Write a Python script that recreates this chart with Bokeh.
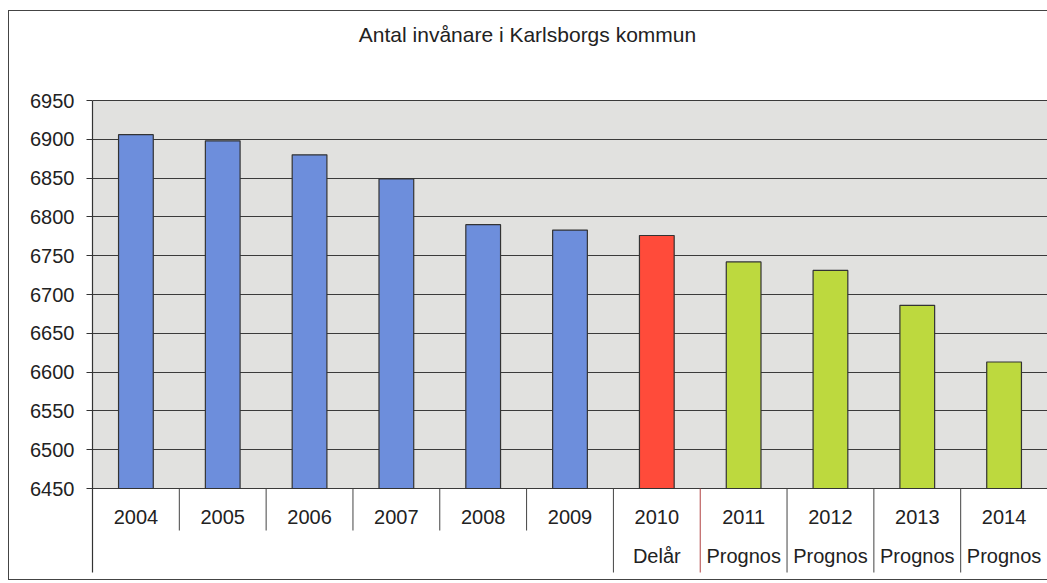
from bokeh.plotting import figure
from bokeh.models import Range1d, FixedTicker, ColumnDataSource
from bokeh.core.properties import value
from bokeh.embed import file_html
from bokeh.resources import INLINE

# ---- data ----
years = ["2004", "2005", "2006", "2007", "2008", "2009", "2010", "2011", "2012", "2013", "2014"]
population = [6906, 6898, 6880, 6849, 6790, 6783, 6776, 6742, 6731, 6686, 6613]
sublabels = ["", "", "", "", "", "", "Delår", "Prognos", "Prognos", "Prognos", "Prognos"]
kinds = ["Utfall"] * 6 + ["Delår"] + ["Prognos"] * 4
y_ticks = [6450, 6500, 6550, 6600, 6650, 6700, 6750, 6800, 6850, 6900, 6950]
title_text = "Antal invånare i Karlsborgs kommun"

color_map = {"Utfall": "#6d8edc", "Delår": "#ff4b3a", "Prognos": "#bdd93e"}
FONT = "Liberation Sans"
TXT = "#222222"

W, H = 1047, 583
LEFT = 92
n = len(years)
xs = [i + 0.5 for i in range(n)]
colors = [color_map[k] for k in kinds]

# pixel scale: 6950 at y=100, 6450 at y=488 (figure coords)
ppu = 388 / 500.0
y_top = y_ticks[-1] + 100 / ppu
y_bot = y_ticks[0] - (H - 488) / ppu
cat_px = (W - LEFT) / n

p = figure(width=W, height=H,
           x_range=Range1d(0, n), y_range=Range1d(y_bot, y_top),
           x_axis_location=None,
           output_backend="svg", toolbar_location=None,
           min_border_left=LEFT, min_border_right=0, min_border_top=0, min_border_bottom=0)
p.outline_line_color = None
p.background_fill_alpha = 0
p.border_fill_alpha = 0
p.xgrid.visible = False
p.ygrid.ticker = FixedTicker(ticks=y_ticks)
p.ygrid.grid_line_color = "#3a3a3a"
p.ygrid.grid_line_width = 1

ax = p.yaxis[0]
ax.ticker = FixedTicker(ticks=y_ticks)
ax.bounds = (y_ticks[0] - 84 / ppu, y_ticks[-1])
ax.axis_line_color = "#333333"
ax.axis_line_width = 1.2
ax.major_tick_line_color = "#333333"
ax.major_tick_out = 6
ax.major_tick_in = 0
ax.minor_tick_line_color = None
ax.major_label_standoff = 12
ax.major_label_text_font = FONT
ax.major_label_text_font_size = "20px"
ax.major_label_text_color = TXT

# plot area background
p.quad(left=[0], right=[n], bottom=[y_ticks[0]], top=[y_ticks[-1]],
       fill_color="#e1e1df", line_color=None, level="image")

# bars
src = ColumnDataSource(dict(x=xs, top=population, color=colors))
p.vbar(x="x", top="top", bottom=y_ticks[0], width=0.4, source=src,
       fill_color="color", line_color="#333333", line_width=1.2)

# category separators
short_sep = [i for i in range(1, n) if kinds[i - 1] == "Utfall" and kinds[i] == "Utfall"]
long_sep = [i for i in range(1, n + 1) if i not in short_sep]
p.segment(x0=short_sep, x1=short_sep, y0=[y_ticks[0]] * len(short_sep),
          y1=[y_ticks[0] - 42 / ppu] * len(short_sep), line_color="#444444", line_width=1)
sep_colors = ["#b04040" if (i < n and kinds[i - 1] == "Delår") else "#444444" for i in long_sep]
p.segment(x0=long_sep, x1=long_sep, y0=[y_ticks[0]] * len(long_sep),
          y1=[y_ticks[0] - 84 / ppu] * len(long_sep), line_color=sep_colors, line_width=1)

# category labels (vertical centres at y=516 and y=555)
p.text(x=xs, y=[y_ticks[0] - (516 - 488) / ppu] * n, text=years, text_align="center",
       text_baseline="middle", text_font=value(FONT), text_font_size="20px", text_color=TXT)
p.text(x=xs, y=[y_ticks[0] - (555 - 488) / ppu] * n, text=sublabels, text_align="center",
       text_baseline="middle", text_font=value(FONT), text_font_size="20px", text_color=TXT)

# title (vertical centre at y=34)
p.text(x=[(527 - LEFT) / cat_px], y=[y_ticks[-1] + (100 - 34) / ppu], text=[title_text],
       text_align="center", text_baseline="middle", text_font=value(FONT),
       text_font_size="21px", text_color=TXT)

# thin outer chart border (left at x=8, top at y=10, bottom at y=579)
p.styles = {"box-shadow": "inset 8px 10px 0 0 #ffffff, inset 0 -3px 0 0 #ffffff, "
                          "inset 9px 11px 0 0 #444444, inset 0 -4px 0 0 #444444",
            "background-color": "#ffffff"}

open("out.html", "w").write(file_html(p, INLINE))
